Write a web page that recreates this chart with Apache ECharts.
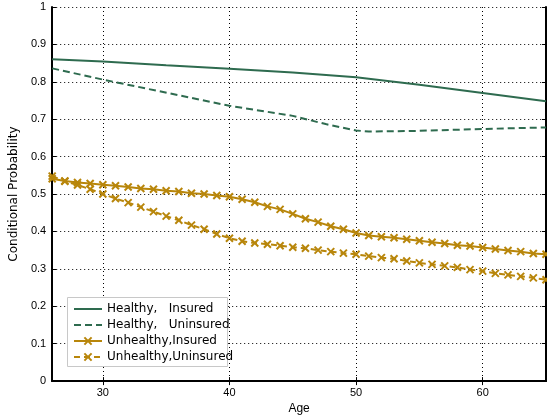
<!DOCTYPE html>
<html><head><meta charset="utf-8">
<script src="https://cdn.jsdelivr.net/npm/echarts@6/dist/echarts.min.js"></script>
<style>html,body{margin:0;padding:0;background:#fff}#c{width:547px;height:420px}</style>
</head><body><div id="c"></div>
<script>
// ---- data ----
const seriesNames = ['Healthy,   Insured', 'Healthy,   Uninsured', 'Unhealthy,Insured', 'Unhealthy,Uninsured'];
const xTicks = [30, 40, 50, 60];
const healthyInsAges = [26, 30, 35, 40, 45, 50, 55, 60, 65];
const healthyIns = [0.860, 0.854, 0.844, 0.835, 0.825, 0.812, 0.792, 0.770, 0.748];
const healthyUninsAges = [26, 30, 36, 40, 45, 47.6, 50, 51, 55, 60, 65];
const healthyUnins = [0.836, 0.806, 0.764, 0.736, 0.709, 0.687, 0.670, 0.667, 0.669, 0.674, 0.678];
const ages = [26,27,28,29,30,31,32,33,34,35,36,37,38,39,40,41,42,43,44,45,46,47,48,49,50,51,52,53,54,55,56,57,58,59,60,61,62,63,64,65];
const unhealthyIns = [0.541,0.535,0.531,0.528,0.525,0.522,0.519,0.515,0.513,0.509,0.507,0.502,0.500,0.496,0.493,0.486,0.478,0.467,0.459,0.447,0.434,0.425,0.414,0.406,0.396,0.389,0.386,0.383,0.379,0.375,0.371,0.368,0.363,0.361,0.357,0.353,0.349,0.346,0.341,0.339];
const unhealthyUnins = [0.548,0.534,0.524,0.513,0.500,0.488,0.477,0.465,0.453,0.441,0.430,0.417,0.406,0.393,0.382,0.374,0.369,0.366,0.362,0.358,0.355,0.350,0.346,0.342,0.339,0.334,0.330,0.327,0.321,0.316,0.312,0.308,0.304,0.298,0.294,0.288,0.284,0.280,0.276,0.271];

const zip = (xs, ys) => xs.map((x, i) => [x, ys[i]]);
const GREEN = '#2e6b4f', GOLD = '#b8860b';
const xSym = 'path://M0,0L10,10M10,0L0,10';
const FONT = 'Liberation Sans, Arial, Helvetica, sans-serif';
const NAMEFONT = 'DejaVu Sans, sans-serif';

const chart = echarts.init(document.getElementById('c'), null, {renderer: 'canvas'});
const frameAxis = {lineStyle: {color: '#000', width: 2}};
const hiddenMark = {opacity: 0};
const option = {
  animation: false,
  backgroundColor: '#fff',
  textStyle: {fontFamily: FONT},
  grid: {left: 42, right: 1, top: 7, bottom: 32},
  xAxis: [{
    type: 'value', min: 26, max: 65,
    name: 'Age', nameLocation: 'middle', nameGap: 17,
    nameTextStyle: {fontSize: 12, color: '#000', fontFamily: FONT},
    axisLine: frameAxis,
    axisTick: {inside: true, length: 4, customValues: xTicks, lineStyle: {color: '#000'}},
    axisLabel: {customValues: xTicks, fontSize: 11, color: '#000', margin: 6, fontFamily: FONT},
    splitLine: {show: true, lineStyle: {color: '#000', type: [1, 3], width: 1}}
  }, {
    type: 'value', min: 26, max: 65, position: 'top',
    axisLine: frameAxis,
    axisTick: {inside: true, length: 4, customValues: xTicks, lineStyle: {color: '#000'}},
    axisLabel: {show: false, customValues: xTicks},
    splitLine: {show: false}
  }],
  yAxis: [{
    type: 'value', min: 0, max: 1, interval: 0.1,
    name: 'Conditional Probability', nameLocation: 'middle', nameGap: 26,
    nameTextStyle: {fontSize: 12, color: '#000', fontFamily: NAMEFONT},
    axisLine: {show: true, lineStyle: {color: '#000', width: 2}},
    axisTick: {show: true, inside: true, length: 4, lineStyle: {color: '#000'}},
    axisLabel: {fontSize: 11, color: '#000', margin: 6, fontFamily: FONT},
    splitLine: {show: true, lineStyle: {color: '#000', type: [1, 3], width: 1}}
  }, {
    type: 'value', min: 0, max: 1, interval: 0.1, position: 'right',
    axisLine: {show: true, lineStyle: {color: '#000', width: 2}},
    axisTick: {show: true, inside: true, length: 4, lineStyle: {color: '#000'}},
    axisLabel: {show: false},
    splitLine: {show: false}
  }],
  graphic: [{
    type: 'rect', left: 67, top: 297, z: 3,
    shape: {width: 160, height: 69},
    style: {fill: '#fff', stroke: '#c8c8c8', lineWidth: 1}
  }],
  legend: {
    orient: 'vertical', left: 73, top: 303, padding: 0,
    itemWidth: 28, itemHeight: 9, itemGap: 4, z: 5,
    textStyle: {fontSize: 12, color: '#000', fontFamily: NAMEFONT},
    data: [
      {name: seriesNames[0], itemStyle: hiddenMark},
      {name: seriesNames[1], itemStyle: hiddenMark},
      {name: seriesNames[2]},
      {name: seriesNames[3]}
    ]
  },
  series: [{
    name: seriesNames[0], type: 'line', data: zip(healthyInsAges, healthyIns),
    showSymbol: false, symbol: 'none',
    lineStyle: {color: GREEN, width: 2}, itemStyle: {color: GREEN}
  }, {
    name: seriesNames[1], type: 'line', data: zip(healthyUninsAges, healthyUnins),
    showSymbol: false, symbol: 'none',
    lineStyle: {color: GREEN, width: 2, type: [7, 4]}, itemStyle: {color: GREEN}
  }, {
    name: seriesNames[2], type: 'line', data: zip(ages, unhealthyIns),
    symbol: xSym, symbolSize: 7,
    lineStyle: {color: GOLD, width: 2},
    itemStyle: {color: GOLD, borderColor: GOLD, borderWidth: 2}
  }, {
    name: seriesNames[3], type: 'line', data: zip(ages, unhealthyUnins),
    symbol: xSym, symbolSize: 7,
    lineStyle: {color: GOLD, width: 2, type: [6, 4]},
    itemStyle: {color: GOLD, borderColor: GOLD, borderWidth: 2}
  }]
};
chart.setOption(option);
</script></body></html>
